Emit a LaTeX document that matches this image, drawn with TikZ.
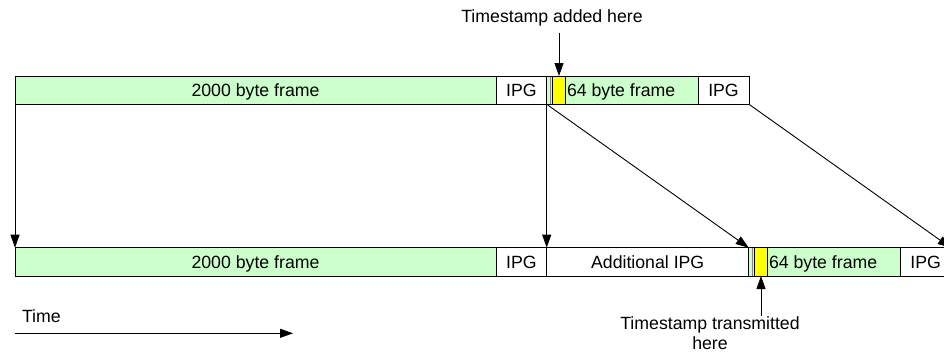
\documentclass[tikz,border=0pt]{standalone}
\usepackage{fontspec}
\setmainfont{Liberation Sans}
\usetikzlibrary{arrows.meta}
\definecolor{frgreen}{HTML}{CCFFCC}
\definecolor{tsyellow}{HTML}{FFFF00}
\tikzset{
  bx/.style={draw=black, line width=0.9pt, inner sep=0pt, outer sep=0pt, anchor=north west,
    minimum height=28.3pt, text height=12.7pt, text depth=0pt},
  frm/.style={bx, fill=frgreen},
  gap/.style={bx, fill=white},
  ts/.style={bx, fill=tsyellow},
  arr/.style={-{Triangle[length=13pt,width=9pt]}, line width=0.9pt, black},
  sep/.style={draw=gray, line width=0.9pt},
  lbl/.style={inner sep=0pt, outer sep=0pt},
}
\begin{document}
\begin{tikzpicture}[x=1pt,y=-1pt,font=\fontsize{17.7}{20}\selectfont]
\useasboundingbox (0,0) rectangle (944,353);
\clip (0,0) rectangle (944,353);
% top row
\node[frm, minimum width=481pt] (f1) at (15,76) {2000 byte frame};
\node[gap, minimum width=50.7pt] (i1) at (496,76) {IPG};
\node[frm, minimum width=151.3pt] (s1) at (546.7,76) {};
\draw[sep] (550.5,76.5) -- (550.5,103.8);
\node[ts, minimum width=12.6pt] (y1) at (552.7,76) {};
\node[lbl, anchor=base west] (t1) at (567,96.7) {64 byte frame};
\node[gap, minimum width=51pt] (i2) at (698,76) {IPG};
% bottom row
\node[frm, minimum width=481pt] (f2) at (15,247.7) {2000 byte frame};
\node[gap, minimum width=50.7pt] (i3) at (496,247.7) {IPG};
\node[gap, minimum width=202pt] (ai) at (546.7,247.7) {Additional IPG};
\node[frm, minimum width=152pt] (s2) at (748.7,247.7) {};
\draw[sep] (752.5,248.2) -- (752.5,275.5);
\node[ts, minimum width=12.6pt] (y2) at (754.7,247.7) {};
\node[lbl, anchor=base west] (t2) at (769,268.4) {64 byte frame};
\node[gap, minimum width=50pt] (i4) at (900.7,247.7) {IPG};
% labels
\node[lbl, anchor=base] (la) at (552,22.7) {Timestamp added here};
\coordinate (la0) at (559,33);
\node[lbl, anchor=north, align=center] (lt) at (710,316.5) {Timestamp transmitted\\here};
\coordinate (lt0) at (761,316);
\node[lbl, anchor=base west] (tm) at (22,322.7) {Time};
\coordinate (tm0) at (15,333.3);
\coordinate (tm1) at (293,333.3);
% connectors
\draw[arr] (f1.south west) -- (f2.north west);
\draw[arr] (i1.south east) -- (i3.north east);
\draw[arr] (i1.south east) -- (ai.north east);
\draw[arr] (i2.south east) -- (i4.north east);
\draw[arr] (la0) -- (y1.north);
\draw[arr] (lt0) -- (y2.south);
\draw[arr] (tm0) -- (tm1);
\end{tikzpicture}
\end{document}
